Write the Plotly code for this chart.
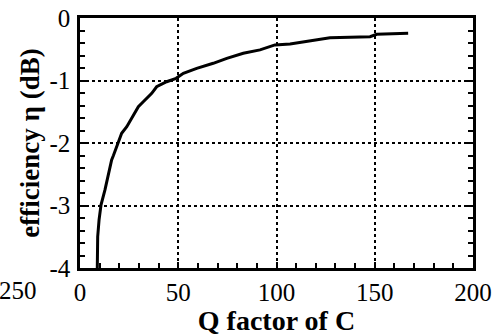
import plotly.graph_objects as go

q_factor = [8.8, 9.0, 9.7, 10.7, 12.7, 14.4, 16.1, 17.0, 19.5, 21.2, 23.8, 27.1, 29.7, 32.2,
            36.5, 39.0, 44.1, 48.9, 52.6, 59.4, 67.8, 74.7, 83.1, 91.6, 99.2, 106.9,
            117.0, 127.2, 147.6, 151.0, 167.0]
efficiency_db = [-4.0, -3.5, -3.23, -2.99, -2.75, -2.485, -2.27, -2.2, -1.97, -1.845, -1.74, -1.55, -1.42, -1.34,
                 -1.205, -1.10, -1.02, -0.965, -0.885, -0.805, -0.725, -0.645, -0.565, -0.51, -0.43, -0.415,
                 -0.36, -0.315, -0.30, -0.26, -0.245]

x_ticks = [0, 50, 100, 150, 200]
y_ticks = [0, -1, -2, -3, -4]

FONT = "Liberation Serif"

fig = go.Figure()
fig.add_trace(go.Scatter(x=q_factor, y=efficiency_db, mode="lines",
                         line=dict(color="black", width=3),
                         showlegend=False, hoverinfo="skip"))

fig.update_layout(
    width=500, height=336,
    margin=dict(l=80, r=27, t=18, b=68),
    paper_bgcolor="white", plot_bgcolor="white",
    font=dict(family=FONT, color="black", size=25),
    xaxis=dict(range=[0, 200], tickvals=x_ticks, ticktext=[str(v) for v in x_ticks],
               automargin=False, ticklabeloverflow="allow",
               showline=True, linecolor="black", linewidth=2.5, mirror=True,
               ticks="inside", ticklen=6, tickwidth=2, tickcolor="black",
               showgrid=True, gridcolor="black", griddash="dot", gridwidth=1.5,
               zeroline=False,
               minor=dict(dtick=10, ticks="inside", ticklen=5, tickwidth=2, tickcolor="black", showgrid=False),
               tickfont=dict(size=25, family=FONT),
               title=dict(text="<b>Q factor of C</b>", font=dict(size=28, family=FONT), standoff=0)),
    yaxis=dict(range=[-4, 0], tickvals=y_ticks, ticktext=[str(v) for v in y_ticks],
               automargin=False, ticklabeloverflow="allow",
               showline=True, linecolor="black", linewidth=2.5, mirror="ticks",
               ticks="inside", ticklen=6, tickwidth=2, tickcolor="black",
               showgrid=True, gridcolor="black", griddash="dot", gridwidth=1.5,
               zeroline=False,
               minor=dict(dtick=0.2, ticks="inside", ticklen=5, tickwidth=2, tickcolor="black", showgrid=False),
               tickfont=dict(size=25, family=FONT), ticklabelstandoff=2,
               title=dict(text="<b>efficiency η (dB)</b>", font=dict(size=27, family=FONT), standoff=2)),
    annotations=[dict(text="250", x=(18 - 80) / 393, y=(268 - 290) / 250,
                      xref="paper", yref="paper", xanchor="center", yanchor="middle",
                      showarrow=False, font=dict(size=25, family=FONT))],
)

# remove the browser's default 8px page margin so the figure sits at the window origin
fig.write_html("out.html", config={"displayModeBar": False},
               post_script="document.body.style.margin='0';")
